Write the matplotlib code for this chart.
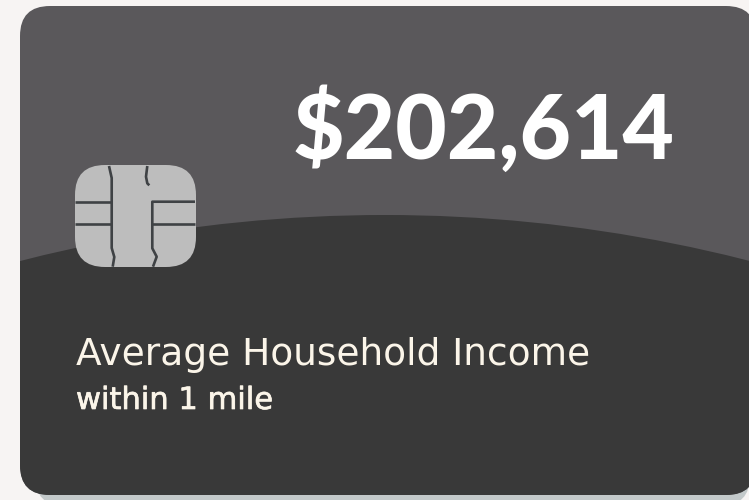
import matplotlib
matplotlib.use('Agg')
import matplotlib.pyplot as plt
import matplotlib.patheffects as pe
from matplotlib.patches import FancyBboxPatch, Circle

value_label = '$202,614'
title_label = 'Average Household Income'
sub_label = 'within 1 mile'

BG = '#f7f4f3'
TOP = '#5a585b'
BOTTOM = '#393939'
SHADOW = '#c3c9ca'
CHIP = '#bdbdbd'
CHIP_LINE = '#3f4245'
CREAM = '#fbf5e9'

fig = plt.figure(figsize=(7.49, 5.0), dpi=100, facecolor=BG)
ax = fig.add_axes([0, 0, 1, 1])
ax.set_xlim(0, 749)
ax.set_ylim(500, 0)
ax.axis('off')


def rounded(x0, y0, x1, y1, r, **kw):
    return FancyBboxPatch((x0 + r, y0 + r), x1 - x0 - 2 * r, y1 - y0 - 2 * r,
                          boxstyle='round,pad=%s,rounding_size=%s' % (r, r), **kw)


# shadow and card
ax.add_patch(rounded(35, 300, 750, 506, 30, fc=SHADOW, ec='none', zorder=1))
card = rounded(20, 6, 756, 495, 30, fc=TOP, ec='none', zorder=2)
ax.add_patch(card)

# darker lower part, clipped to the card
hill = Circle((385, 215 + 1471), 1471, fc=BOTTOM, ec='none', zorder=3)
ax.add_patch(hill)
hill.set_clip_path(card)

# chip
ax.add_patch(rounded(75, 165, 196, 267, 30, fc=CHIP, ec='none', zorder=4))
chip_lines = [
    ([109, 111.7, 111.7, 114.3, 112.7], [166, 178, 248, 257, 266.7]),
    ([147.3, 146, 147.3, 149.3], [166, 176.7, 183.3, 185.3]),
    ([195, 152.3, 152.3, 156.7, 153], [201.7, 201.7, 248.3, 256.7, 266.7]),
    ([75, 111], [201.7, 201.7]),
    ([75, 111], [224, 224]),
    ([152, 195], [224, 224]),
]
for xs, ys in chip_lines:
    ax.plot(xs, ys, color=CHIP_LINE, lw=1.9, zorder=5, solid_capstyle='butt')

ax.text(484, 159, value_label, color='white', fontsize=64, fontweight='black',
        family='Lato', ha='center', va='baseline', zorder=6)
ax.text(76, 365, title_label, color=CREAM, fontsize=27, family='DejaVu Sans',
        ha='left', va='baseline', zorder=6)
sub = ax.text(76, 409, sub_label, color=CREAM, fontsize=22, family='DejaVu Sans',
              ha='left', va='baseline', zorder=6)
sub.set_path_effects([pe.withStroke(linewidth=0.5, foreground=CREAM)])

fig.savefig('out.png', dpi=100, facecolor=BG)
